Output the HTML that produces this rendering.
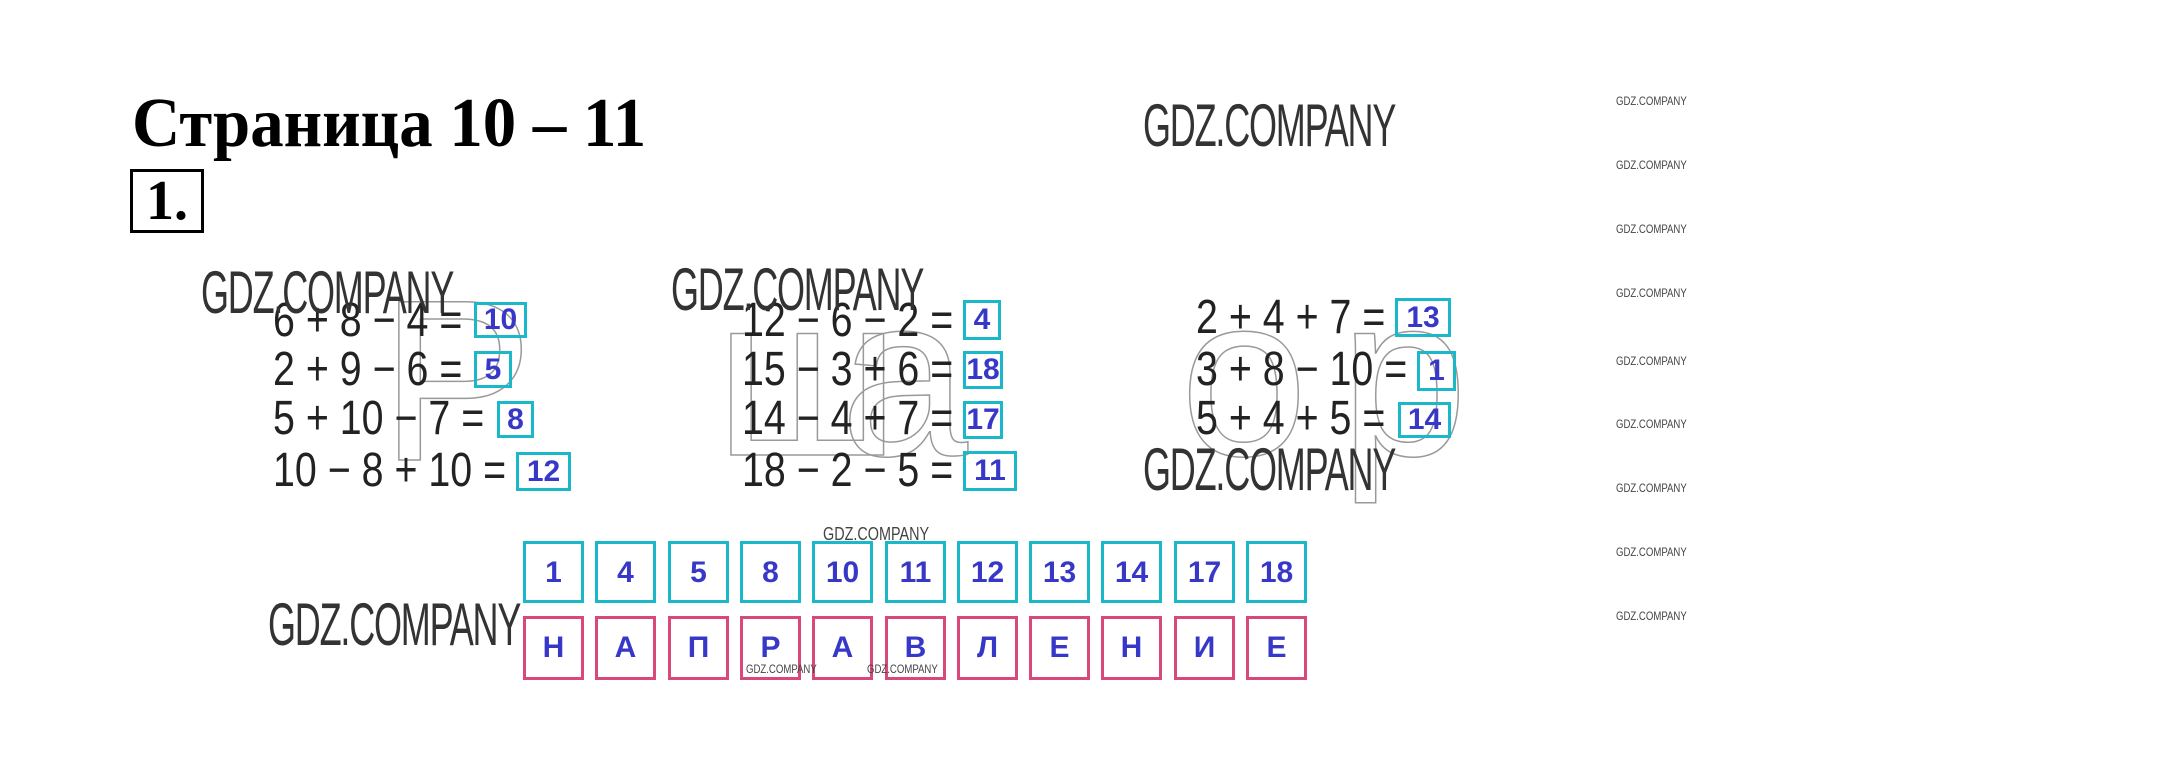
<!DOCTYPE html>
<html><head><meta charset="utf-8"><style>
body{margin:0;width:2175px;height:769px;background:#fff;position:relative;overflow:hidden;font-family:"Liberation Sans",sans-serif}
.a{position:absolute;white-space:nowrap}
.t{font-family:"Liberation Serif",serif;font-weight:bold;font-size:70px;left:132px;top:84px;transform-origin:0 0;transform:scaleX(0.955)}
.n{left:130px;top:169px;width:68px;height:58px;border:3px solid #000;font-family:"Liberation Serif",serif;font-weight:bold;font-size:56px;line-height:58px;text-align:center}
.w{font-family:"Liberation Sans Narrow","Liberation Sans",sans-serif;font-size:60px;color:#333;transform-origin:0 0;transform:scaleX(0.6);font-weight:normal;letter-spacing:-2px}
.s{font-family:"Liberation Sans Narrow","Liberation Sans",sans-serif;font-size:12px;color:#444;transform-origin:0 0;transform:scaleX(0.8)}
.e{font-family:"Liberation Sans Narrow","Liberation Sans",sans-serif;font-size:48px;color:#222;line-height:40px;transform-origin:0 0;transform:scaleX(0.82)}
.b{position:absolute;border:3px solid #1ab8c8;box-sizing:border-box;color:#3838c8;font-weight:bold;font-size:30px;text-align:center}
.g{position:absolute;width:61px;height:62px;box-sizing:border-box;color:#3838c8;font-weight:bold;font-size:30px;text-align:center;line-height:58px}
.c{border:3px solid #1ab8c8}.p{border:3px solid #d8487a;height:64px}
</style></head><body>
<div class="a t">Страница 10 – 11</div>
<div class="a n">1.</div>

<svg class="a" style="left:0;top:0" width="2175" height="769">
<g fill="none" stroke="#999" stroke-width="1.5" font-family="Liberation Sans" font-size="230">
<text x="380" y="460">Р</text>
<text x="715" y="455">ш</text>
<text x="840" y="455">а</text>
<text x="1180" y="455">о</text>
<text x="1340" y="455">р</text>
</g></svg>

<div class="a e" style="left:273px;top:301px">6 + 8 − 4 =</div>
<div class="a e" style="left:273px;top:350px">2 + 9 − 6 =</div>
<div class="a e" style="left:273px;top:399px">5 + 10 − 7 =</div>
<div class="a e" style="left:273px;top:451px">10 − 8 + 10 =</div>
<div class="b" style="left:474px;top:302px;width:53px;height:36px;line-height:30px">10</div>
<div class="b" style="left:474px;top:351px;width:38px;height:37px;line-height:31px">5</div>
<div class="b" style="left:497px;top:401px;width:37px;height:37px;line-height:31px">8</div>
<div class="b" style="left:516px;top:452px;width:55px;height:39px;line-height:33px">12</div>

<div class="a e" style="left:742px;top:301px">12 − 6 − 2 =</div>
<div class="a e" style="left:742px;top:350px">15 − 3 + 6 =</div>
<div class="a e" style="left:742px;top:399px">14 − 4 + 7 =</div>
<div class="a e" style="left:742px;top:451px">18 − 2 − 5 =</div>
<div class="b" style="left:963px;top:300px;width:38px;height:40px;line-height:34px">4</div>
<div class="b" style="left:963px;top:351px;width:40px;height:38px;line-height:32px">18</div>
<div class="b" style="left:963px;top:401px;width:40px;height:38px;line-height:32px">17</div>
<div class="b" style="left:963px;top:451px;width:54px;height:40px;line-height:34px">11</div>

<div class="a e" style="left:1196px;top:298px">2 + 4 + 7 =</div>
<div class="a e" style="left:1196px;top:350px">3 + 8 − 10 =</div>
<div class="a e" style="left:1196px;top:399px">5 + 4 + 5 =</div>
<div class="b" style="left:1395px;top:298px;width:56px;height:39px;line-height:33px">13</div>
<div class="b" style="left:1417px;top:351px;width:39px;height:40px;line-height:34px">1</div>
<div class="b" style="left:1398px;top:402px;width:53px;height:36px;line-height:30px">14</div>

<div class="g c" style="left:523px;top:541px">1</div>
<div class="g c" style="left:595px;top:541px">4</div>
<div class="g c" style="left:668px;top:541px">5</div>
<div class="g c" style="left:740px;top:541px">8</div>
<div class="g c" style="left:812px;top:541px">10</div>
<div class="g c" style="left:885px;top:541px">11</div>
<div class="g c" style="left:957px;top:541px">12</div>
<div class="g c" style="left:1029px;top:541px">13</div>
<div class="g c" style="left:1101px;top:541px">14</div>
<div class="g c" style="left:1174px;top:541px">17</div>
<div class="g c" style="left:1246px;top:541px">18</div>
<div class="g p" style="left:523px;top:616px">Н</div>
<div class="g p" style="left:595px;top:616px">А</div>
<div class="g p" style="left:668px;top:616px">П</div>
<div class="g p" style="left:740px;top:616px">Р</div>
<div class="g p" style="left:812px;top:616px">А</div>
<div class="g p" style="left:885px;top:616px">В</div>
<div class="g p" style="left:957px;top:616px">Л</div>
<div class="g p" style="left:1029px;top:616px">Е</div>
<div class="g p" style="left:1101px;top:616px">Н</div>
<div class="g p" style="left:1174px;top:616px">И</div>
<div class="g p" style="left:1246px;top:616px">Е</div>

<div class="a w" style="left:201px;top:258px">GDZ.COMPANY</div>
<div class="a w" style="left:671px;top:255px">GDZ.COMPANY</div>
<div class="a w" style="left:1143px;top:91px">GDZ.COMPANY</div>
<div class="a w" style="left:1143px;top:435px">GDZ.COMPANY</div>
<div class="a w" style="left:268px;top:590px">GDZ.COMPANY</div>
<div class="a s" style="left:823px;top:524px;font-size:18px">GDZ.COMPANY</div>
<div class="a s" style="left:746px;top:662px">GDZ.COMPANY</div>
<div class="a s" style="left:867px;top:662px">GDZ.COMPANY</div>

<div class="a s" style="left:1616px;top:94px">GDZ.COMPANY</div>
<div class="a s" style="left:1616px;top:158px">GDZ.COMPANY</div>
<div class="a s" style="left:1616px;top:222px">GDZ.COMPANY</div>
<div class="a s" style="left:1616px;top:286px">GDZ.COMPANY</div>
<div class="a s" style="left:1616px;top:354px">GDZ.COMPANY</div>
<div class="a s" style="left:1616px;top:417px">GDZ.COMPANY</div>
<div class="a s" style="left:1616px;top:481px">GDZ.COMPANY</div>
<div class="a s" style="left:1616px;top:545px">GDZ.COMPANY</div>
<div class="a s" style="left:1616px;top:609px">GDZ.COMPANY</div>
</body></html>
